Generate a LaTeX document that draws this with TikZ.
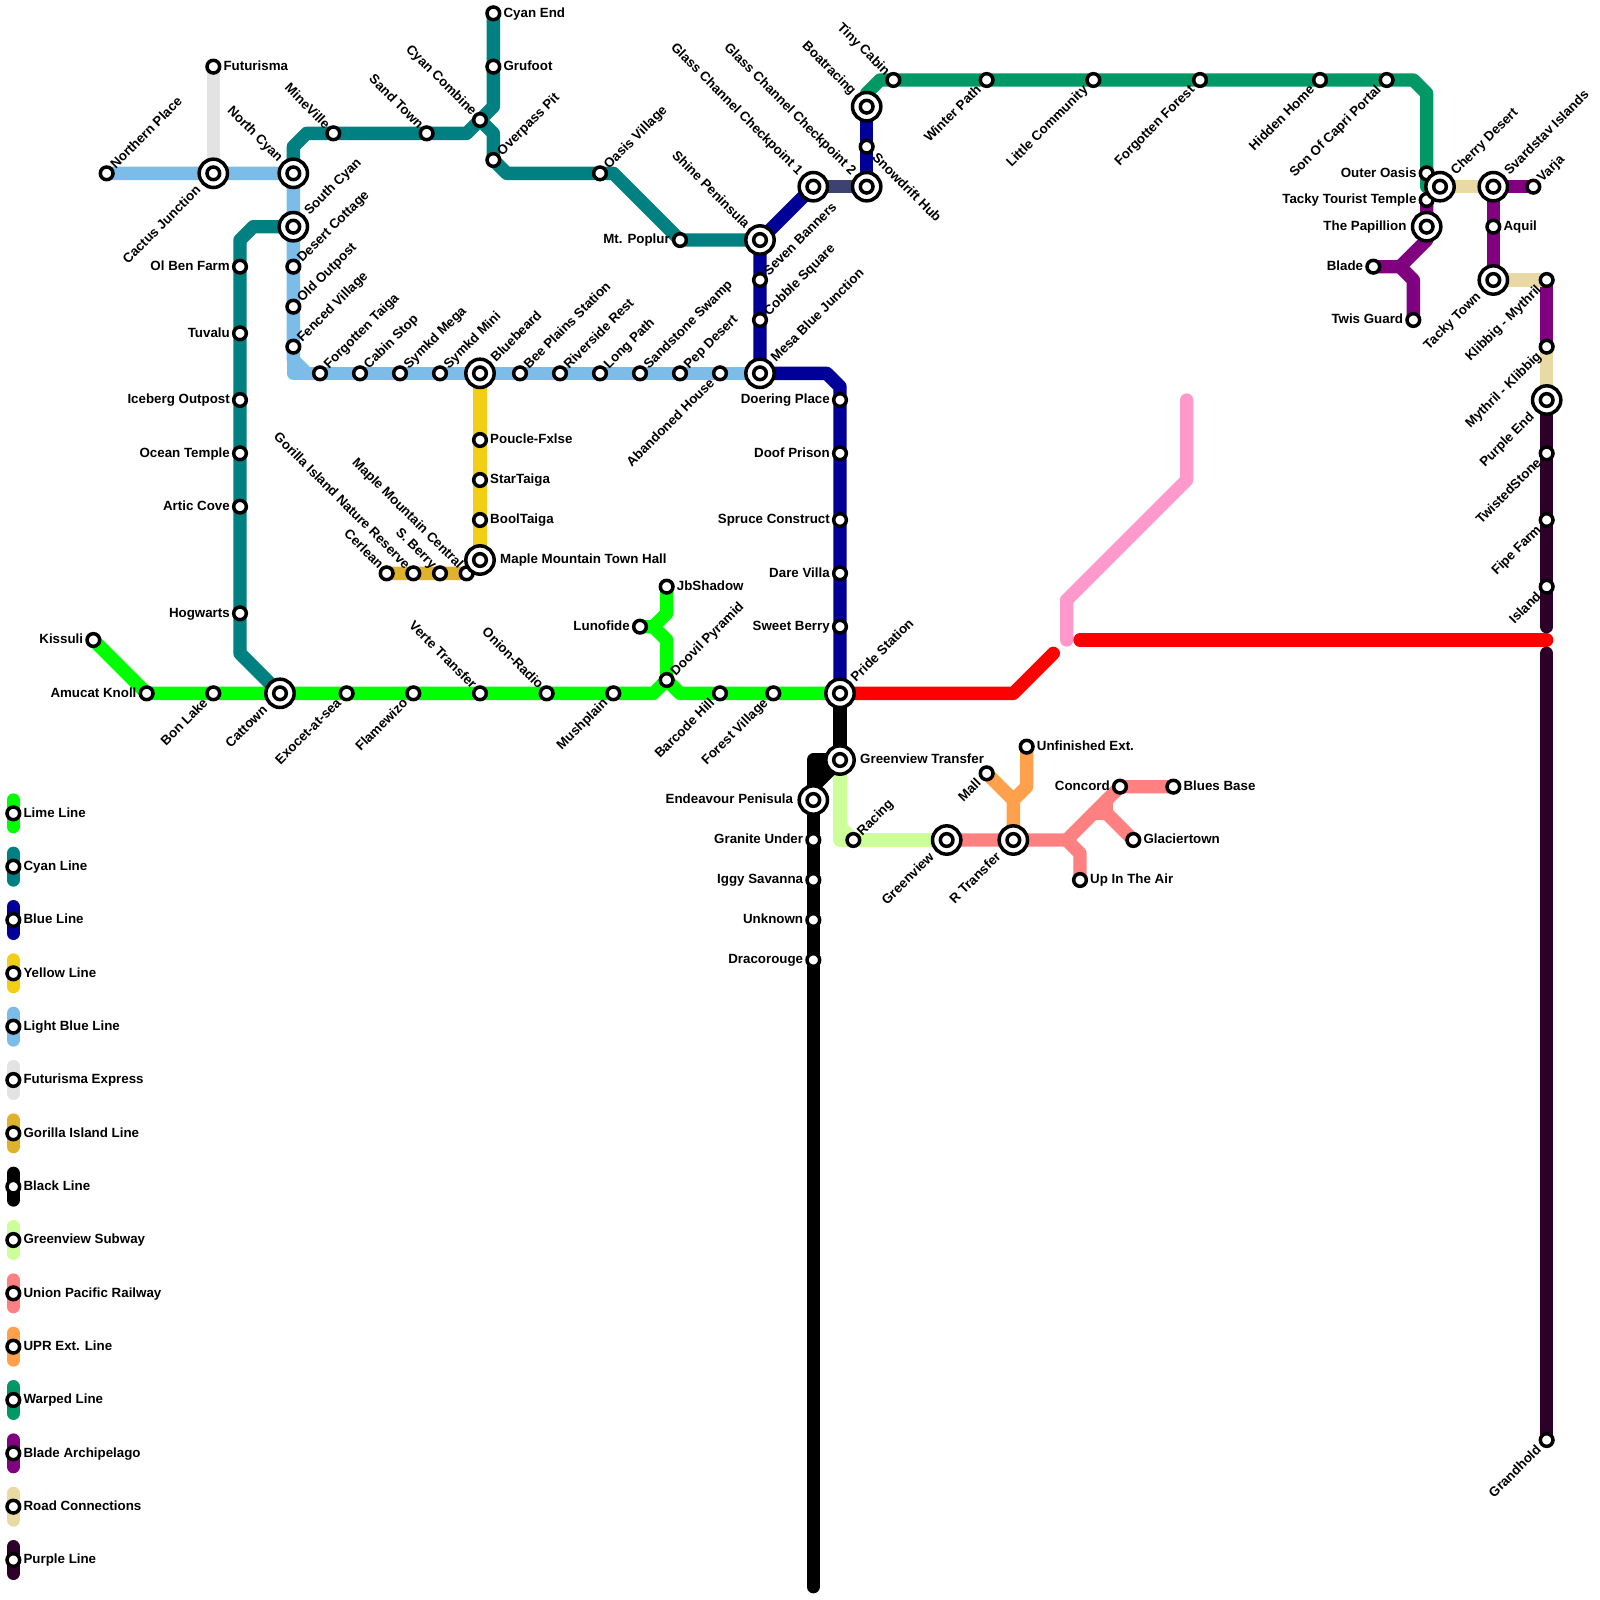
\documentclass[tikz,border=0pt]{standalone}
\usepackage{fontspec}
\setmainfont{Liberation Sans}
\pgfdeclarelayer{bg}
\pgfsetlayers{bg,main}
\definecolor{cLime}{HTML}{00FF00}
\definecolor{cCyan}{HTML}{008080}
\definecolor{cBlue}{HTML}{000099}
\definecolor{cYellow}{HTML}{F2CE14}
\definecolor{cLight}{HTML}{7BBDE8}
\definecolor{cFutur}{HTML}{E3E3E3}
\definecolor{cGorilla}{HTML}{DFB22B}
\definecolor{cGreen}{HTML}{CCFF99}
\definecolor{cUnion}{HTML}{FF8080}
\definecolor{cUpr}{HTML}{FFA04D}
\definecolor{cWarped}{HTML}{009966}
\definecolor{cBlade}{HTML}{800080}
\definecolor{cRoad}{HTML}{E8D9A5}
\definecolor{cPurple}{HTML}{2D0029}
\definecolor{cPink}{HTML}{FF99CC}
\definecolor{cGlass}{HTML}{3C4370}
\def\ANGe{0}\def\ROTe{0}\def\ANCe{west}\def\DXe{0cm}\def\DYe{0.03cm}
\def\ANGw{180}\def\ROTw{0}\def\ANCw{east}\def\DXw{0cm}\def\DYw{0.03cm}
\def\ANGne{45}\def\ROTne{45}\def\ANCne{west}\def\DXne{-0.045cm}\def\DYne{0cm}
\def\ANGsw{225}\def\ROTsw{45}\def\ANCsw{east}\def\DXsw{-0.03cm}\def\DYsw{0cm}
\def\ANGnw{135}\def\ROTnw{-45}\def\ANCnw{east}\def\DXnw{0.06cm}\def\DYnw{0cm}
\def\ANGse{-45}\def\ROTse{-45}\def\ANCse{west}\def\DXse{0.03cm}\def\DYse{-0.03cm}
\tikzset{
 x=0.4cm,y=-0.4cm,
 ml/.style={line width=0.4cm,line cap=round,line join=round},
 stsmall/.style={circle,draw=black,fill=white,line width=0.105cm,minimum size=0.38cm,inner sep=0pt,outer sep=0pt},
 stbig/.style={circle,draw=black,fill=white,line width=0.105cm,minimum size=0.85cm,inner sep=0pt,outer sep=0pt},
 lab/.style={inner sep=0pt,text height=8.2pt,text depth=0pt,font=\fontsize{11.38pt}{13pt}\selectfont\bfseries},
}
\newcommand\lbltxt[4]{\path (#1.center) ++(\csname ANG#2\endcsname:#3) node[lab,xshift=\csname DX#2\endcsname,yshift=\csname DY#2\endcsname,rotate=\csname ROT#2\endcsname,anchor=\csname ANC#2\endcsname] (#1-l) {#4};}
\newcommand\st[5]{\node[stsmall] (#1) at (#2,#3) {};\lbltxt{#1}{#4}{0.3cm}{#5}}
\newcommand\ist[5]{\node[stbig] (#1) at (#2,#3) {};\node[stsmall] (#1-i) at (#2,#3) {};\lbltxt{#1}{#4}{0.6cm}{#5}}
\newcommand\metro[2]{%
 \foreach[count=\ii] \nn in {#2}{\ifnum\ii=1 \xdef\mypath{(\nn.center)}\else \xdef\mypath{\mypath -- (\nn.center)}\fi}%
 \draw[ml,#1] \mypath;}
\newcommand\lgd[4]{%
 \coordinate (lg#1a) at (1,#2-1);\coordinate (lg#1b) at (1,#2+1);
 \begin{pgfonlayer}{bg}\draw[ml,#3] (lg#1a.center) -- (lg#1b.center);\end{pgfonlayer}
 \st{lg#1}{1}{#2}{e}{#4}}
\begin{document}
\begin{tikzpicture}
\useasboundingbox (0,0) rectangle (120,120);
% small stations
\st{np}{8}{13}{ne}{Northern Place}
\st{fut}{16}{5}{e}{Futurisma}
\st{dc}{22}{20}{ne}{Desert Cottage}
\st{oo}{22}{23}{ne}{Old Outpost}
\st{fv}{22}{26}{ne}{Fenced Village}
\st{ft}{24}{28}{ne}{Forgotten Taiga}
\st{cs}{27}{28}{ne}{Cabin Stop}
\st{sme}{30}{28}{ne}{Symkd Mega}
\st{smi}{33}{28}{ne}{Symkd Mini}
\st{bp}{39}{28}{ne}{Bee Plains Station}
\st{rr}{42}{28}{ne}{Riverside Rest}
\st{lp}{45}{28}{ne}{Long Path}
\st{ss}{48}{28}{ne}{Sandstone Swamp}
\st{pd}{51}{28}{ne}{Pep Desert}
\st{ah}{54}{28}{sw}{Abandoned House}
\st{dp}{63}{30}{w}{Doering Place}
\st{dop}{63}{34}{w}{Doof Prison}
\st{sc}{63}{39}{w}{Spruce Construct}
\st{dv}{63}{43}{w}{Dare Villa}
\st{sb}{63}{47}{w}{Sweet Berry}
\st{gu}{61}{63}{w}{Granite Under}
\st{is}{61}{66}{w}{Iggy Savanna}
\st{un}{61}{69}{w}{Unknown}
\st{dr}{61}{72}{w}{Dracorouge}
\st{ra}{64}{63}{ne}{Racing}
\st{mall}{74}{58}{sw}{Mall}
\st{ue}{77}{56}{e}{Unfinished Ext.}
\st{con}{84}{59}{w}{Concord}
\st{bb}{88}{59}{e}{Blues Base}
\st{gl}{85}{63}{e}{Glaciertown}
\st{uia}{81}{66}{e}{Up In The Air}
\st{sb2}{65}{11}{se}{Snowdrift Hub}
\st{sev}{57}{21}{ne}{Seven Banners}
\st{cob}{57}{24}{ne}{Cobble Square}
\st{tc}{67}{6}{nw}{Tiny Cabin}
\st{wp}{74}{6}{sw}{Winter Path}
\st{lc}{82}{6}{sw}{Little Community}
\st{ff}{90}{6}{sw}{Forgotten Forest}
\st{hh}{99}{6}{sw}{Hidden Home}
\st{scp}{104}{6}{sw}{Son Of Capri Portal}
\st{oa}{107}{13}{w}{Outer Oasis}
\st{ttt}{107}{15}{w}{Tacky Tourist Temple}
\st{bl}{103}{20}{w}{Blade}
\st{tg}{106}{24}{w}{Twis Guard}
\st{va}{115}{14}{ne}{Varja}
\st{aq}{112}{17}{e}{Aquil}
\st{km}{116}{21}{sw}{Klibbig - Mythril}
\st{mk}{116}{26}{sw}{Mythril - Klibbig}
\st{ts}{116}{34}{sw}{TwistedStone}
\st{fipe}{116}{39}{sw}{Fipe Farm}
\st{isl}{116}{44}{sw}{Island}
\st{gh}{116}{108}{sw}{Grandhold}
\st{ce}{37}{1}{e}{Cyan End}
\st{gf}{37}{5}{e}{Grufoot}
\st{ov}{37}{12}{ne}{Overpass Pit}
\st{cc}{36}{9}{nw}{Cyan Combine}
\st{st}{32}{10}{nw}{Sand Town}
\st{mv}{25}{10}{nw}{MineVille}
\st{ov2}{45}{13}{ne}{Oasis Village}
\st{mp}{51}{18}{w}{Mt. Poplur}
\st{obf}{18}{20}{w}{Ol Ben Farm}
\st{tu}{18}{25}{w}{Tuvalu}
\st{io}{18}{30}{w}{Iceberg Outpost}
\st{ot}{18}{34}{w}{Ocean Temple}
\st{ac}{18}{38}{w}{Artic Cove}
\st{hw}{18}{46}{w}{Hogwarts}
\st{pf}{36}{33}{e}{Poucle-Fxlse}
\st{sta}{36}{36}{e}{StarTaiga}
\st{bt}{36}{39}{e}{BoolTaiga}
\st{cer}{29}{43}{nw}{Cerlean}
\st{gin}{31}{43}{nw}{Gorilla Island Nature Reserve}
\st{sbe}{33}{43}{nw}{S. Berry}
\st{mmc}{35}{43}{nw}{Maple Mountain Central}
\st{ki}{7}{48}{w}{Kissuli}
\st{ak}{11}{52}{w}{Amucat Knoll}
\st{bo}{16}{52}{sw}{Bon Lake}
\st{ex}{26}{52}{sw}{Exocet-at-sea}
\st{fl}{31}{52}{sw}{Flamewizo}
\st{ve}{36}{52}{nw}{Verte Transfer}
\st{on}{41}{52}{nw}{Onion-Radio}
\st{mu}{46}{52}{sw}{Mushplain}
\st{doo}{50}{51}{ne}{Doovil Pyramid}
\st{jb}{50}{44}{e}{JbShadow}
\st{lu}{48}{47}{w}{Lunofide}
\st{bh}{54}{52}{sw}{Barcode Hill}
\st{fov}{58}{52}{sw}{Forest Village}
% interchanges
\ist{cj}{16}{13}{sw}{Cactus Junction}
\ist{nc}{22}{13}{nw}{North Cyan}
\ist{sc2}{22}{17}{ne}{South Cyan}
\ist{bb2}{36}{28}{ne}{Bluebeard}
\ist{mmt}{36}{42}{e}{Maple Mountain Town Hall}
\ist{mbj}{57}{28}{ne}{Mesa Blue Junction}
\ist{shp}{57}{18}{nw}{Shine Peninsula}
\ist{gc1}{61}{14}{nw}{Glass Channel Checkpoint 1}
\ist{gc2}{65}{14}{nw}{Glass Channel Checkpoint 2}
\ist{br}{65}{8}{nw}{Boatracing}
\ist{pr}{63}{52}{ne}{Pride Station}
\ist{gvt}{63}{57}{e}{Greenview Transfer}
\ist{ep}{61}{60}{w}{Endeavour Penisula}
\ist{gv}{71}{63}{sw}{Greenview}
\ist{rt}{76}{63}{sw}{R Transfer}
\ist{ca}{21}{52}{sw}{Cattown}
\ist{chd}{108}{14}{ne}{Cherry Desert}
\ist{svi}{112}{14}{ne}{Svardstav Islands}
\ist{pap}{107}{17}{w}{The Papillion}
\ist{ttn}{112}{21}{sw}{Tacky Town}
\ist{pe}{116}{30}{sw}{Purple End}
% bends
\coordinate (a1) at (22,27);\coordinate (a2) at (22,28);\coordinate (a3) at (23,28);
\coordinate (b1) at (62,28);\coordinate (b2) at (63,29);
\coordinate (c1) at (37,8);\coordinate (c2) at (35,10);\coordinate (c3) at (23,10);\coordinate (c4) at (22,11);
\coordinate (c5) at (37,10);\coordinate (c6) at (38,13);\coordinate (c7) at (46,13);
\coordinate (c8) at (19,17);\coordinate (c9) at (18,18);\coordinate (c10) at (18,49);
\coordinate (d1) at (49,52);\coordinate (d2) at (51,52);\coordinate (d3) at (50,48);\coordinate (d4) at (49,47);\coordinate (d5) at (50,46);
\coordinate (e1) at (61,57);\coordinate (e2) at (61,119);\coordinate (e3) at (61,59);\coordinate (e4) at (62,57.5);\coordinate (e5) at (61.5,58);
\coordinate (f1) at (63,63);\coordinate (f2) at (63,62);
\coordinate (g1) at (80,63);\coordinate (g2) at (81,64);\coordinate (g3) at (83,61);\coordinate (g4) at (82,61);\coordinate (g5) at (83,60);
\coordinate (h1) at (76,60);\coordinate (h2) at (77,59);
\coordinate (i1) at (65,7);\coordinate (i2) at (66,6);\coordinate (i3) at (106,6);\coordinate (i4) at (107,7);\coordinate (i5) at (107,14);
\coordinate (j1) at (107,18);\coordinate (j2) at (105,20);\coordinate (j3) at (106,21);
\coordinate (k1) at (76,52);\coordinate (k2) at (79,49);\coordinate (k3) at (81,48);\coordinate (k4) at (116,48);
\coordinate (m1) at (80,48);\coordinate (m2) at (80,45);\coordinate (m3) at (89,36);\coordinate (m4) at (89,30);
\coordinate (n1) at (116,47);\coordinate (n2) at (116,49);
\begin{pgfonlayer}{bg}
\metro{cPink}{m1,m2,m3,m4}
\metro{red}{pr,k1,k2}
\metro{red}{k3,k4}
\metro{cLime}{ki,ak,bo,ca,ex,fl,ve,on,mu,d1,doo,d2,bh,fov,pr}
\metro{cLime}{jb,d5,d4,lu}
\metro{cLime}{d4,d3,doo}
\metro{cCyan}{ce,gf,c1,cc,c2,st,mv,c3,c4,nc}
\metro{cCyan}{cc,c5,ov,c6,ov2,c7,mp,shp}
\metro{cCyan}{sc2,c8,c9,obf,tu,io,ot,ac,hw,c10,ca}
\metro{cBlue}{pr,sb,dv,sc,dop,dp,b2,b1,mbj,cob,sev,shp,gc1}
\metro{cBlue}{gc2,sb2,br}
\metro{cGlass}{gc1,gc2}
\metro{cYellow}{bb2,pf,sta,bt,mmt}
\metro{cLight}{np,cj,nc,sc2,dc,oo,fv,a1,a3}
\metro{cLight}{fv,a2,ft,cs,sme,smi,bb2,bp,rr,lp,ss,pd,ah,mbj}
\metro{cFutur}{fut,cj}
\metro{cGorilla}{cer,gin,sbe,mmc,mmt}
\metro{cGreen}{gvt,f1,gv}
\metro{cGreen}{f2,ra}
\metro{black}{pr,gvt,e1,ep,gu,is,un,dr,e2}
\metro{black}{gvt,e3}
\metro{black}{e4,e5}
\metro{cUnion}{gv,rt,g1,con,bb}
\metro{cUnion}{g1,g2,uia}
\metro{cUnion}{gl,g3,g4}
\metro{cUnion}{g3,g5}
\metro{cUpr}{rt,h1,mall}
\metro{cUpr}{h1,h2,ue}
\metro{cWarped}{br,i1,i2,tc,wp,lc,ff,hh,scp,i3,i4,oa,i5}
\metro{cBlade}{ttt,pap,j1,j2,bl}
\metro{cBlade}{j2,j3,tg}
\metro{cBlade}{va,svi,aq,ttn}
\metro{cBlade}{km,mk}
\metro{cRoad}{chd,svi}
\metro{cRoad}{ttn,km}
\metro{cRoad}{mk,pe}
\metro{cPurple}{pe,ts,fipe,isl,n1}
\metro{cPurple}{n2,gh}
\end{pgfonlayer}
% legend
\lgd{1}{61}{cLime}{Lime Line}
\lgd{2}{65}{cCyan}{Cyan Line}
\lgd{3}{69}{cBlue}{Blue Line}
\lgd{4}{73}{cYellow}{Yellow Line}
\lgd{5}{77}{cLight}{Light Blue Line}
\lgd{6}{81}{cFutur}{Futurisma Express}
\lgd{7}{85}{cGorilla}{Gorilla Island Line}
\lgd{8}{89}{black}{Black Line}
\lgd{9}{93}{cGreen}{Greenview Subway}
\lgd{10}{97}{cUnion}{Union Pacific Railway}
\lgd{11}{101}{cUpr}{UPR Ext. Line}
\lgd{12}{105}{cWarped}{Warped Line}
\lgd{13}{109}{cBlade}{Blade Archipelago}
\lgd{14}{113}{cRoad}{Road Connections}
\lgd{15}{117}{cPurple}{Purple Line}
\end{tikzpicture}
\end{document}
